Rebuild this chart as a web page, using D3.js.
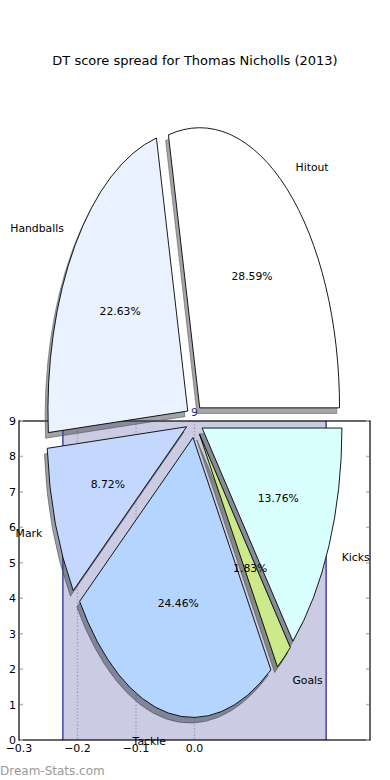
<!DOCTYPE html>
<html>
<head>
<meta charset="utf-8">
<script src="https://cdn.jsdelivr.net/npm/d3@7"></script>
<style>
  body { margin: 0; background: #fff; }
  text { font-family: "DejaVu Sans", sans-serif; }
</style>
</head>
<body>
<script>
const outerWidth = 390;
const outerHeight = 780;
const margin = { left: 19, top: 421, right: 20, bottom: 40 };
const innerWidth = outerWidth - margin.left - margin.right;
const innerHeight = outerHeight - margin.top - margin.bottom;

const titleText = "DT score spread for Thomas Nicholls (2013)";
const watermarkText = "Dream-Stats.com";

// pie slices, clockwise from 3 o'clock
const categories = ["Kicks", "Goals", "Tackle", "Mark", "Handballs", "Hitout"];
const shares = [13.76, 1.83, 24.46, 8.72, 22.63, 28.59];
const sliceColors = ["#d9ffff", "#cdea8a", "#b3d5ff", "#c4d8ff", "#eaf1ff", "#ffffff"];
const explode = [0.06, 0.06, 0.06, 0.06, 0.06, 0.06];

// the bar behind the pie
const barX = [0];
const barValues = [9];
const barWidth = 0.45;

const xTicks = [-0.3, -0.2, -0.1, 0.0];
const gridX = [-0.2, -0.1, 0.0];
const yTicks = [0, 1, 2, 3, 4, 5, 6, 7, 8, 9];

// pie placement in data units
const pieCenter = [0, 9];
const pieRadius = [0.239, 7.9];

const svg = d3.select("body").append("svg")
  .attr("width", outerWidth)
  .attr("height", outerHeight);

const xScale = d3.scaleLinear().domain([-0.3, 0.3]).range([margin.left, margin.left + innerWidth]);
const yScale = d3.scaleLinear().domain([0, 9]).range([margin.top + innerHeight, margin.top]);

svg.append("text")
  .attr("x", outerWidth / 2)
  .attr("y", 65)
  .attr("text-anchor", "middle")
  .style("font-size", "13px")
  .text(titleText);

// bar
svg.selectAll("rect.bar").data(barValues).enter().append("rect")
  .attr("class", "bar")
  .attr("x", (d, i) => xScale(barX[i] - barWidth / 2))
  .attr("y", d => yScale(d))
  .attr("width", (d, i) => xScale(barX[i] + barWidth / 2) - xScale(barX[i] - barWidth / 2))
  .attr("height", d => yScale(0) - yScale(d))
  .attr("fill", "#cbcbe4");

// dotted grid
svg.selectAll("line.grid").data(gridX).enter().append("line")
  .attr("class", "grid")
  .attr("x1", d => xScale(d)).attr("x2", d => xScale(d))
  .attr("y1", yScale(9)).attr("y2", yScale(0))
  .attr("stroke", "#9c9cae")
  .attr("stroke-width", 1.3)
  .attr("stroke-dasharray", "1.3,2");

// bar edges
barValues.forEach((v, i) => {
  [barX[i] - barWidth / 2, barX[i] + barWidth / 2].forEach(x => {
    svg.append("line")
      .attr("x1", xScale(x)).attr("x2", xScale(x))
      .attr("y1", yScale(v)).attr("y2", yScale(0))
      .attr("stroke", "#1c1c9c")
      .attr("stroke-width", 1.2);
  });
  svg.append("text")
    .attr("x", xScale(barX[i]))
    .attr("y", yScale(v) - 5)
    .attr("text-anchor", "middle")
    .attr("fill", "#1c1c9c")
    .style("font-size", "10.8px")
    .text(v);
});

// spines
svg.append("rect")
  .attr("x", margin.left).attr("y", margin.top)
  .attr("width", innerWidth).attr("height", innerHeight)
  .attr("fill", "none")
  .attr("stroke", "#000")
  .attr("stroke-width", 1.2);

// y ticks (inward, both sides)
yTicks.forEach(t => {
  svg.append("line")
    .attr("x1", margin.left + 1).attr("x2", margin.left + 4)
    .attr("y1", yScale(t)).attr("y2", yScale(t))
    .attr("stroke", "#b8b8b8").attr("stroke-width", 1.5);
  svg.append("line")
    .attr("x1", margin.left + innerWidth - 4).attr("x2", margin.left + innerWidth - 1)
    .attr("y1", yScale(t)).attr("y2", yScale(t))
    .attr("stroke", "#b8b8b8").attr("stroke-width", 1.5);
  svg.append("text")
    .attr("x", margin.left - 3)
    .attr("y", yScale(t))
    .attr("dy", "0.36em")
    .attr("text-anchor", "end")
    .style("font-size", "11px")
    .text(t);
});

xTicks.forEach(t => {
  svg.append("text")
    .attr("x", xScale(t))
    .attr("y", yScale(0) + 12)
    .attr("text-anchor", "middle")
    .style("font-size", "11px")
    .text(d3.format(".1f")(t).replace("-", "\u2212"));
});

// pie
const cx = xScale(pieCenter[0]);
const cy = yScale(pieCenter[1]);
const rx = xScale(pieCenter[0] + pieRadius[0]) - cx;
const ry = yScale(pieCenter[1] - pieRadius[1]) - cy;

const pie = d3.pie().sort(null)
  .startAngle(Math.PI / 2)
  .endAngle(Math.PI / 2 + 2 * Math.PI);
const arcs = pie(shares);
const arc = d3.arc().innerRadius(0).outerRadius(1);

const shadowColor = c => {
  const rgb = d3.rgb(c);
  return `rgba(${Math.round(rgb.r * 0.3)},${Math.round(rgb.g * 0.3)},${Math.round(rgb.b * 0.3)},0.5)`;
};

const pieG = svg.append("g");

arcs.forEach((a, i) => {
  const mid = (a.startAngle + a.endAngle) / 2;
  const ox = cx + explode[i] * Math.sin(mid) * rx;
  const oy = cy - explode[i] * Math.cos(mid) * ry;

  pieG.append("path")
    .attr("d", arc(a))
    .attr("transform", `translate(${ox - 0.02 * rx}, ${oy + 0.02 * ry}) scale(${rx}, ${ry})`)
    .attr("fill", shadowColor(sliceColors[i]))
    .attr("stroke", shadowColor(sliceColors[i]))
    .attr("stroke-width", 1)
    .attr("vector-effect", "non-scaling-stroke");

  pieG.append("path")
    .attr("d", arc(a))
    .attr("transform", `translate(${ox}, ${oy}) scale(${rx}, ${ry})`)
    .attr("fill", sliceColors[i])
    .attr("stroke", "#000")
    .attr("stroke-width", 0.9)
    .attr("vector-effect", "non-scaling-stroke");
});

// labels
arcs.forEach((a, i) => {
  const mid = (a.startAngle + a.endAngle) / 2;
  const lx = cx + (explode[i] + 1.1) * Math.sin(mid) * rx;
  const ly = cy - (explode[i] + 1.1) * Math.cos(mid) * ry;
  pieG.append("text")
    .attr("x", lx).attr("y", ly)
    .attr("dy", "0.36em")
    .attr("text-anchor", lx > cx ? "start" : "end")
    .style("font-size", "10.8px")
    .text(categories[i]);

  const px = cx + (explode[i] + 0.6) * Math.sin(mid) * rx;
  const py = cy - (explode[i] + 0.6) * Math.cos(mid) * ry;
  pieG.append("text")
    .attr("x", px).attr("y", py)
    .attr("dy", "0.36em")
    .attr("text-anchor", "middle")
    .style("font-size", "10.8px")
    .text(d3.format(".2f")(a.data) + "%");
});

svg.append("text")
  .attr("x", 0)
  .attr("y", 775)
  .attr("fill", "#999")
  .style("font-size", "12px")
  .text(watermarkText);
</script>
</body>
</html>
